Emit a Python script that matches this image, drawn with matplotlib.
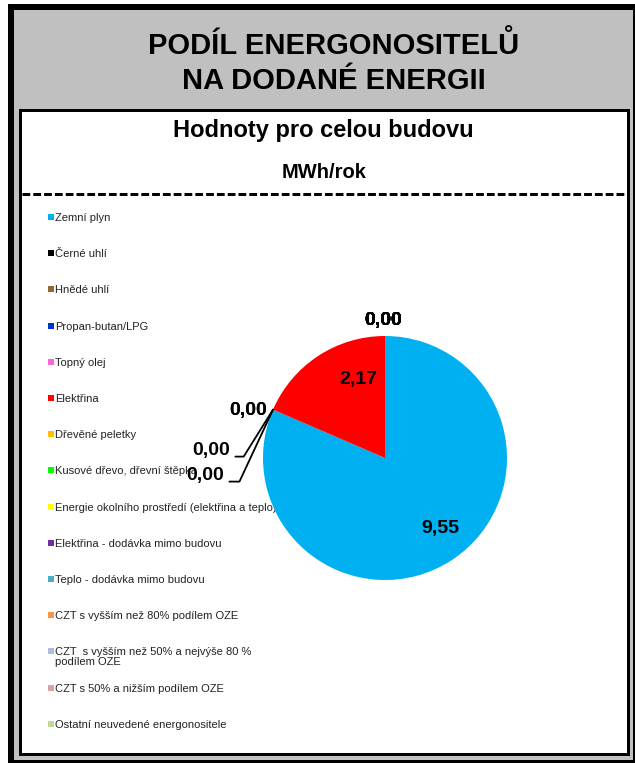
import matplotlib
matplotlib.use("Agg")
import matplotlib.pyplot as plt
from matplotlib.patches import Rectangle
import numpy as np

plt.rcParams['font.family'] = ['Liberation Sans', 'DejaVu Sans']

# --- data
kategorie = ['Zemní plyn', 'Černé uhlí', 'Hnědé uhlí', 'Propan-butan/LPG', 'Topný olej',
             'Elektřina', 'Dřevěné peletky', 'Kusové dřevo, dřevní štěpka',
             'Energie okolního prostředí (elektřina a teplo)', 'Elektřina - dodávka mimo budovu',
             'Teplo - dodávka mimo budovu', 'CZT s vyšším než 80% podílem OZE',
             'CZT  s vyšším než 50% a nejvýše 80 %\npodílem OZE', 'CZT s 50% a nižším podílem OZE',
             'Ostatní neuvedené energonositele']
hodnoty = [9.55, 0, 0, 0, 0, 2.17, 0, 0, 0, 0, 0, 0, 0, 0, 0]
barvy = ['#00B0F0', '#000000', '#996633', '#0033CC', '#FF66CC', '#FF0000', '#FFC000',
         '#00FF00', '#FFFF00', '#7030A0', '#4BACC6', '#F79646', '#B0BCDA', '#D9A3A3', '#C4D79B']

titulek = 'PODÍL ENERGONOSITELŮ\nNA DODANÉ ENERGII'
podtitulek = 'Hodnoty pro celou budovu'
jednotka = 'MWh/rok'

W, H = 635, 763
fig = plt.figure(figsize=(W / 100, H / 100), dpi=100)
px = 0.72  # points per pixel

# --- background frames (pixel coords)
bg = fig.add_axes([0, 0, 1, 1])
bg.set_xlim(0, W)
bg.set_ylim(H, 0)
bg.axis('off')
bg.add_patch(Rectangle((11, 7), 625, 756, facecolor='#C0C0C0', edgecolor='black', lw=6 * px))
bg.add_patch(Rectangle((19.5, 109.5), 608, 644, facecolor='white', edgecolor='black', lw=3 * px))
bg.plot([22, 625], [194, 194], color='black', lw=3 * px, dashes=(2.6, 1.0), solid_capstyle='butt',
        dash_capstyle='butt')

bg.text(334, 63, titulek, ha='center', va='center', fontsize=21, fontweight='bold',
        linespacing=1.3)
bg.text(323, 131, podtitulek, ha='center', va='center', fontsize=17, fontweight='bold')
bg.text(324, 172, jednotka, ha='center', va='center', fontsize=14.5, fontweight='bold')

# --- legend
for i, (kat, c) in enumerate(zip(kategorie, barvy)):
    y = 217 + 36.2 * i
    bg.add_patch(Rectangle((48, y - 3), 6, 6, facecolor=c, edgecolor='none'))
    bg.text(55, y - 4, kat, ha='left', va='top', fontsize=8, color='#222222', linespacing=1.0)

# --- pie
cx, cy, r = 385, 458, 122
pa = fig.add_axes([(cx - r) / W, (H - cy - r) / H, 2 * r / W, 2 * r / H])
wedges, _ = pa.pie(hodnoty, colors=barvy, startangle=90, counterclock=False, radius=1,
                   wedgeprops=dict(linewidth=0))
pa.set_xlim(-1, 1)
pa.set_ylim(-1, 1)
pa.axis('off')

# label offsets (pixels, y up) for each slice
posuny = [(6, 4), (-68, -66), (-62, -41), (-25, -1), (-25, -1), (22, 4)] + [(-2, 16)] * 9
sipky = {1: 65, 2: 58}

for i, (w, v) in enumerate(zip(wedges, hodnoty)):
    a = np.deg2rad((w.theta1 + w.theta2) / 2)
    rr = 0.73 if v > 0 else 1.0
    xy = (round(rr * np.cos(a), 4), round(rr * np.sin(a), 4))
    txt = '{:.2f}'.format(v).replace('.', ',')
    ap = None
    if i in sipky:
        ap = dict(arrowstyle='-', color='black', lw=1.3, relpos=(1, 0.15), shrinkA=2, shrinkB=0,
                  connectionstyle='angle,angleA=0,angleB={},rad=0'.format(sipky[i]))
    pa.annotate(txt, xy=xy, xytext=posuny[i], textcoords='offset pixels', ha='center',
                va='center', fontsize=14, fontweight='bold', arrowprops=ap,
                annotation_clip=False)

fig.savefig('out.png', dpi=100)
